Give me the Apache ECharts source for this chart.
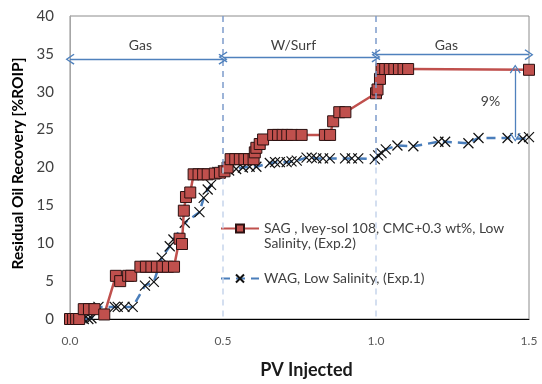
<!DOCTYPE html>
<html>
<head>
<meta charset="utf-8">
<script src="https://cdn.jsdelivr.net/npm/echarts@6/dist/echarts.min.js"></script>
<style>
  html, body { margin: 0; padding: 0; background: #fff; }
  #chart { width: 542px; height: 384px; }
</style>
</head>
<body>
<div id="chart"></div>
<script>
// SAG (Exp.2) - PV injected vs recovery
var sagPV = [0, 0.01, 0.02, 0.03, 0.045, 0.062, 0.08, 0.112, 0.15, 0.164, 0.19, 0.2,
  0.23, 0.248, 0.266, 0.284, 0.302, 0.32, 0.34, 0.358, 0.366, 0.372, 0.379, 0.393,
  0.404, 0.42, 0.435, 0.45, 0.473, 0.49, 0.505, 0.515, 0.525, 0.54, 0.555, 0.57, 0.585, 0.6,
  0.604, 0.609, 0.62, 0.631, 0.664, 0.68, 0.695, 0.71, 0.725, 0.757, 0.833, 0.85,
  0.86, 0.88, 0.9, 1.0, 1.005, 1.013, 1.018, 1.03, 1.045, 1.06, 1.075, 1.09, 1.105, 1.5];
var sagRec = [0, 0, 0, 0, 1.3, 1.3, 1.3, 0.6, 5.7, 5.0, 5.7, 5.7,
  6.9, 6.9, 6.9, 6.9, 6.9, 6.9, 6.9, 10.6, 9.9, 14.3, 16.1, 16.7,
  19.1, 19.1, 19.1, 19.1, 19.2, 19.3, 19.5, 20.0, 21.1, 21.1, 21.1, 21.1, 21.1, 21.1,
  22.0, 22.6, 23.1, 23.7, 24.3, 24.3, 24.3, 24.3, 24.3, 24.3, 24.3, 24.3,
  26.1, 27.3, 27.3, 29.8, 30.3, 31.7, 33.0, 33.0, 33.0, 33.0, 33.0, 33.0, 33.0, 32.9];

// WAG (Exp.1)
var wagPV = [0, 0.015, 0.03, 0.045, 0.06, 0.07, 0.093, 0.146, 0.156, 0.178, 0.205,
  0.245, 0.274, 0.3, 0.326, 0.338, 0.375, 0.423, 0.437, 0.45, 0.461, 0.482, 0.5, 0.52,
  0.543, 0.565, 0.587, 0.609, 0.653, 0.67, 0.686, 0.708, 0.724, 0.741, 0.773, 0.79,
  0.805, 0.827, 0.849, 0.899, 0.921, 0.942, 0.996, 1.007, 1.018, 1.032, 1.07, 1.122,
  1.204, 1.226, 1.302, 1.335, 1.43, 1.48, 1.5];
var wagRec = [0, 0, 0, 0, 0, 0.1, 1.6, 1.6, 1.6, 1.6, 1.6,
  4.4, 4.9, 8.1, 9.6, 10.5, 12.7, 14.1, 16.0, 17.1, 17.7, 19.4, 19.6, 19.6,
  19.8, 20.0, 20.1, 20.1, 20.6, 20.7, 20.7, 20.7, 20.8, 20.9, 21.3, 21.3,
  21.2, 21.2, 21.2, 21.2, 21.2, 21.2, 21.1, 21.6, 21.9, 22.4, 22.9, 22.8,
  23.4, 23.4, 23.2, 23.9, 23.9, 23.8, 24.0];

var xTicks = [0, 0.5, 1.0, 1.5];
var yTicks = [0, 5, 10, 15, 20, 25, 30, 35, 40];

var sagName = 'SAG , Ivey-sol 108, CMC+0.3 wt%, Low\nSalinity, (Exp.2)';
var wagName = 'WAG, Low Salinity, (Exp.1)';

// injection stages (start, end, arrow level, label)
var stageFrom = [0, 0.5, 1.0];
var stageTo = [0.5, 1.0, 1.5];
var stageY = [34.3, 34.6, 34.9];
var stageLabel = ['Gas', 'W/Surf', 'Gas'];

var FONT = 'Lato';
var chevron = 'path://M5,0L10,9L9,10L5,2.5L1,10L0,9Z';
var cross = 'path://M0,0L10,10M0,10L10,0';

function zip(a, b) {
  return a.map(function (v, i) { return [v, b[i]]; });
}

var stageLines = stageFrom.map(function (s, i) {
  return [{ coord: [s, stageY[i]] }, { coord: [stageTo[i], stageY[i]] }];
});
// gap between the two curves at the end
stageLines.push([{ coord: [1.455, 33.0] }, { coord: [1.455, 24.0] }]);

var stageTexts = stageLabel.map(function (t, i) {
  return { name: t, coord: [(stageFrom[i] + stageTo[i]) / 2 - 0.02, 36.1] };
});
stageTexts.push({ name: '9%', coord: [1.374, 28.7] });

var chart = echarts.init(document.getElementById('chart'), null, { renderer: 'canvas' });

var option = {
  animation: false,
  grid: {
    left: 70, right: 13, top: 16, bottom: 63,
    show: true, borderColor: '#8c8c8c', borderWidth: 1
  },
  legend: {
    orient: 'vertical',
    left: 220,
    top: 206,
    padding: 0,
    itemWidth: 38,
    itemHeight: 10,
    itemGap: 20,
    textStyle: {
      fontFamily: FONT, fontSize: 13.9, color: '#404040', lineHeight: 15,
      rich: { sp: { fontSize: 13.9, lineHeight: 15 } }
    },
    // blank first line keeps the icon level with the first text line
    formatter: function (name) {
      return name === sagName ? '{sp| }\n' + name : name;
    },
    data: [sagName, wagName]
  },
  xAxis: {
    type: 'value',
    min: 0, max: 1.5, interval: 0.5,
    name: 'PV Injected',
    nameLocation: 'middle',
    nameGap: 42,
    nameTextStyle: { fontFamily: FONT, fontSize: 18, fontWeight: 'bold', color: '#1a1a1a', padding: [0, 0, 0, 14] },
    axisLine: { lineStyle: { color: '#000', width: 1 } },
    axisTick: { show: false },
    splitLine: { show: false },
    axisLabel: {
      margin: 16, color: '#595959', fontFamily: FONT, fontSize: 12,
      formatter: function (v) { return v.toFixed(1); },
      customValues: xTicks
    }
  },
  yAxis: {
    type: 'value',
    min: 0, max: 40, interval: 5,
    name: 'Residual Oil Recovery [%ROIP]',
    nameLocation: 'middle',
    nameGap: 35,
    nameTextStyle: { fontFamily: FONT, fontSize: 15.5, fontWeight: 'bold', color: '#000', padding: [0, 0, 0, 8] },
    axisLine: { show: true, lineStyle: { color: '#a6a6a6', width: 1 } },
    axisTick: { show: false },
    splitLine: { show: false },
    axisLabel: { margin: 16, color: '#404040', fontFamily: FONT, fontSize: 15, customValues: yTicks }
  },
  series: [
    {
      // stage boundaries
      type: 'line',
      data: [],
      silent: true,
      markLine: {
        silent: true,
        symbol: 'none',
        label: { show: false },
        data: [
          [{ coord: [0.5, 40], lineStyle: { color: '#7d9ccc' } }, { coord: [0.5, 20] }],
          [{ coord: [0.5, 20], lineStyle: { color: '#c6d5ec' } }, { coord: [0.5, 0] }],
          [{ coord: [1.0, 40], lineStyle: { color: '#7d9ccc' } }, { coord: [1.0, 20] }],
          [{ coord: [1.0, 20], lineStyle: { color: '#c6d5ec' } }, { coord: [1.0, 0] }]
        ],
        lineStyle: { type: [6, 5], width: 1.5 }
      }
    },
    {
      // stage arrows and labels
      type: 'line',
      data: [],
      silent: true,
      markLine: {
        silent: true,
        symbol: [chevron, chevron],
        symbolSize: [11, 9],
        label: { show: false },
        lineStyle: { color: '#4f81bd', type: 'solid', width: 1.3 },
        data: stageLines
      },
      markPoint: {
        silent: true,
        symbol: 'circle',
        symbolSize: 0,
        label: {
          show: true, position: 'inside', formatter: '{b}',
          color: '#404040', fontFamily: FONT, fontSize: 14
        },
        data: stageTexts
      }
    },
    {
      name: wagName,
      type: 'line',
      clip: false,
      data: zip(wagPV, wagRec),
      symbol: cross,
      symbolSize: 10,
      lineStyle: { color: '#4a7ebb', width: 2.5, type: [9, 6] },
      itemStyle: { color: 'rgba(0,0,0,0)', borderColor: '#111', borderWidth: 1.2 },
      z: 3
    },
    {
      name: sagName,
      type: 'line',
      clip: false,
      data: zip(sagPV, sagRec),
      symbol: 'rect',
      symbolSize: 11,
      lineStyle: { color: '#c0504d', width: 2.5 },
      itemStyle: { color: '#c0504d', borderColor: '#2b1111', borderWidth: 1 },
      z: 4
    }
  ]
};

chart.setOption(option);
</script>
</body>
</html>
